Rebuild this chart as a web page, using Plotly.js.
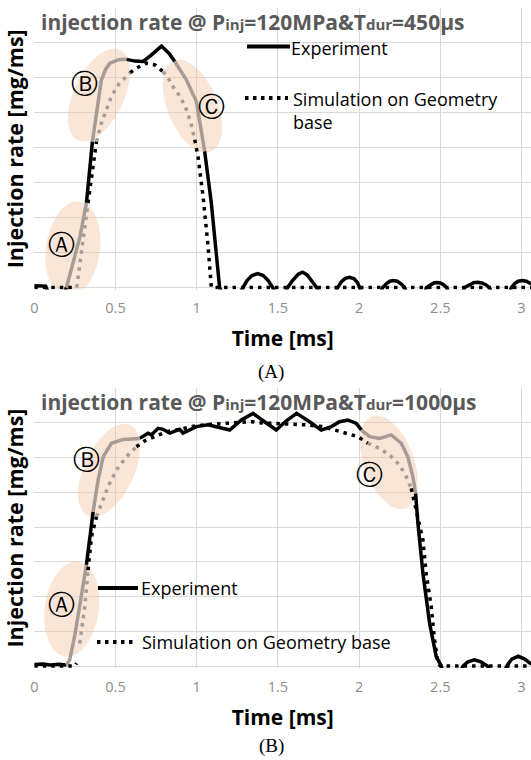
<!DOCTYPE html>
<html>
<head>
<meta charset="utf-8">
<script src="https://cdn.plot.ly/plotly-3.0.1.min.js"></script>
<style>
  html, body { margin: 0; padding: 0; background: #ffffff; }
  #chart { width: 531px; height: 760px; }
</style>
</head>
<body>
<div id="chart"></div>
<script>
// ---------------- data ----------------
// Panel (A): Tdur = 450 us
const timeExpA = [0, 0.05, 0.07, 0.09, 0.18, 0.198, 0.24, 0.281, 0.321, 0.358, 0.383, 0.413, 0.44, 0.465, 0.52, 0.567,
  0.62, 0.67, 0.72, 0.783, 0.83, 0.865, 0.937, 0.998, 1.049, 1.09, 1.141, 1.16, 1.26,
  1.283, 1.31, 1.34, 1.375, 1.41, 1.44, 1.468, 1.49, 1.54,
  1.56, 1.59, 1.625, 1.652, 1.68, 1.71, 1.738, 1.76, 1.85,
  1.868, 1.89, 1.915, 1.942, 1.97, 1.99, 2.003, 2.02, 2.13,
  2.145, 2.17, 2.19, 2.21, 2.235, 2.26, 2.28, 2.3, 2.4,
  2.415, 2.44, 2.46, 2.48, 2.5, 2.52, 2.538, 2.56, 2.63,
  2.65, 2.68, 2.705, 2.73, 2.755, 2.78, 2.803, 2.82, 2.92,
  2.938, 2.96, 2.98, 3.005, 3.03, 3.06];
const rateExpA = [0.05, 0.05, 0.04, -0.2, -0.2, 0, 0.69, 1.45, 2.42, 4.18, 4.99, 5.94, 6.25, 6.42, 6.52, 6.53,
  6.48, 6.47, 6.65, 6.91, 6.7, 6.47, 5.94, 5.32, 3.9, 2.42, 0, -0.2, -0.2,
  0, 0.2, 0.34, 0.40, 0.34, 0.2, 0, -0.2, -0.2,
  0, 0.2, 0.38, 0.44, 0.36, 0.18, 0, -0.2, -0.2,
  0, 0.16, 0.26, 0.29, 0.25, 0.14, 0, -0.2, -0.2,
  0, 0.12, 0.18, 0.2, 0.18, 0.1, 0, -0.2, -0.2,
  0, 0.09, 0.13, 0.14, 0.13, 0.08, 0, -0.2, -0.2,
  0, 0.09, 0.14, 0.15, 0.13, 0.08, 0, -0.2, -0.2,
  0, 0.12, 0.18, 0.2, 0.18, 0.1];
const timeSimA = [0, 0.261, 0.28, 0.305, 0.331, 0.355, 0.383, 0.413, 0.445, 0.475, 0.52, 0.59, 0.629, 0.69, 0.742,
  0.793, 0.83, 0.854, 0.9, 0.937, 0.965, 0.988, 1.008, 1.039, 1.07, 1.09, 3.06];
const rateSimA = [0, 0, 0.62, 1.5, 2.42, 3.3, 4.18, 4.7, 5.1, 5.47, 5.82, 6.15, 6.28, 6.42, 6.37,
  6.18, 5.95, 5.75, 5.45, 5.09, 4.7, 4.23, 3.75, 2.61, 1.18, 0, 0];

// Panel (B): Tdur = 1000 us
const timeExpB = [0, 0.05, 0.1, 0.15, 0.198, 0.218, 0.25, 0.28, 0.321, 0.362, 0.393, 0.424, 0.475, 0.547, 0.649,
  0.7, 0.721, 0.762, 0.793, 0.834, 0.854, 0.895, 0.916, 0.96, 0.998, 1.07, 1.142, 1.203, 1.275, 1.347, 1.418,
  1.49, 1.55, 1.615, 1.695, 1.767, 1.829, 1.88, 1.931, 1.983, 2.014,
  2.065, 2.126, 2.198, 2.26, 2.3, 2.331, 2.348, 2.362, 2.393, 2.434, 2.475, 2.506, 2.52, 2.62,
  2.64, 2.67, 2.71, 2.75, 2.79, 2.81, 2.89,
  2.91, 2.94, 2.98, 3.02, 3.06];
const rateExpB = [0.04, 0.06, 0.03, 0.05, 0.03, 0.17, 0.9, 1.71, 2.91, 4.44, 5.35, 6.02, 6.41, 6.52, 6.55,
  6.7, 6.65, 6.84, 6.81, 6.7, 6.74, 6.81, 6.7, 6.8, 6.89, 6.94, 6.87, 6.79, 7.08, 7.27, 7.03,
  6.79, 7.05, 7.27, 7.03, 6.79, 6.89, 7.03, 7.08, 6.98, 6.79,
  6.6, 6.55, 6.65, 6.41, 6.02, 5.45, 4.97, 4.11, 2.67, 1.23, 0.27, 0, -0.2, -0.2,
  0, 0.12, 0.18, 0.12, 0, -0.2, -0.2,
  0, 0.2, 0.28, 0.2, 0.05];
const timeSimB = [0, 0.25, 0.26, 0.28, 0.311, 0.331, 0.352, 0.383, 0.413, 0.454, 0.506, 0.567, 0.629, 0.68, 0.742,
  0.813, 0.895, 0.98, 1.07, 1.162, 1.223, 1.336, 1.388, 1.49, 1.603, 1.665, 1.777, 1.88, 1.942, 1.993,
  2.054, 2.126, 2.188, 2.249, 2.29, 2.321, 2.362, 2.393, 2.413, 2.444, 2.465, 2.485, 2.5, 3.06];
const rateSimB = [0, 0, 0.08, 0.65, 1.71, 2.76, 3.72, 4.3, 4.68, 5.16, 5.64, 6.02, 6.31, 6.48, 6.6,
  6.74, 6.81, 6.9, 6.95, 6.98, 6.98, 7.03, 7.0, 6.98, 6.94, 6.94, 6.89, 6.74, 6.66, 6.6,
  6.41, 6.26, 6.07, 5.78, 5.45, 5.11, 4.3, 3.63, 2.67, 1.71, 0.75, 0.08, 0, 0];

// Time windows of the marked phases (A opening, B needle lift, C closing)
const phasesExpA = [[0.198, 0.321], [0.358, 0.567], [0.865, 1.049]];
const phasesSimA = [[0.261, 0.331], [0.383, 0.59], [0.793, 0.988]];
const phasesExpB = [[0.198, 0.321], [0.362, 0.649], [2.014, 2.348]];
const phasesSimB = [[0.261, 0.331], [0.383, 0.629], [2.054, 2.321]];
const phaseLabels = ['Ⓐ', 'Ⓑ', 'Ⓒ'];

const tickVals = [0, 0.5, 1, 1.5, 2, 2.5, 3];
const tickText = ['0', '0.5', '1', '1.5', '2', '2.5', '3'];

const titleA = 'injection rate @ P<span style="font-size:15px">inj</span>=120MPa&amp;T<span style="font-size:15px">dur</span>=450μs';
const titleB = 'injection rate @ P<span style="font-size:15px">inj</span>=120MPa&amp;T<span style="font-size:15px">dur</span>=1000μs';
const xTitle = 'Time [ms]';
const yTitle = 'Injection rate [mg/ms]';
const nameExp = 'Experiment';
const nameSim = 'Simulation on Geometry base';
const panelCaptions = ['(A)', '(B)'];

// ---------------- geometry ----------------
const W = 531, H = 760;
const plotLeft = 34.3, pxPerMs = 162.4;
const xMax = (W - plotLeft) / pxPerMs;
const yMin = -0.06, yMax = 8;
const panels = [
  { top: 8, zero: 287.5 },
  { top: 388, zero: 666 }
];
panels.forEach(p => {
  p.pxPerUnit = (p.zero - p.top) / yMax;
  p.bottom = p.zero - yMin * p.pxPerUnit;
});
const px = v => v / W;
const py = v => 1 - v / H;

const BLACK = '#000000';
const GREY = '#a69c95';
const DOTS = '3.5px,5px';

function blackPart(t, r, ranges) {
  return r.map((v, i) => ranges.some(([a, b]) => t[i] > a && t[i] < b) ? null : v);
}
function greyPart(t, r, ranges) {
  const xs = [], ys = [];
  ranges.forEach(([a, b], k) => {
    if (k > 0) { xs.push(null); ys.push(null); }
    t.forEach((x, i) => { if (x >= a && x <= b) { xs.push(x); ys.push(r[i]); } });
  });
  return { xs, ys };
}

function seriesTraces(t, r, ranges, dashed, xa, ya, name) {
  const g = greyPart(t, r, ranges);
  const line = dashed ? { width: 3.5, dash: DOTS } : { width: 3.5 };
  return [
    { x: t, y: blackPart(t, r, ranges), xaxis: xa, yaxis: ya, type: 'scatter', mode: 'lines', name: name,
      line: Object.assign({ color: BLACK }, line), showlegend: false, hoverinfo: 'skip' },
    { x: g.xs, y: g.ys, xaxis: xa, yaxis: ya, type: 'scatter', mode: 'lines', name: name,
      line: Object.assign({ color: GREY }, line), showlegend: false, hoverinfo: 'skip' }
  ];
}

const traces = [].concat(
  seriesTraces(timeExpA, rateExpA, phasesExpA, false, 'x', 'y', nameExp),
  seriesTraces(timeSimA, rateSimA, phasesSimA, true, 'x', 'y', nameSim),
  seriesTraces(timeExpB, rateExpB, phasesExpB, false, 'x2', 'y2', nameExp),
  seriesTraces(timeSimB, rateSimB, phasesSimB, true, 'x2', 'y2', nameSim)
);

// Tilted highlight ellipses: semi-axes in pixels (rx across, ry along), tilt > 0 leans the top to the right
function ellipsePath(cx, cy, rx, ry, tiltDeg, panel) {
  const th = tiltDeg * Math.PI / 180;
  let d = '';
  for (let k = 0; k <= 60; k++) {
    const u = 2 * Math.PI * k / 60;
    const ex = rx * Math.cos(u), ey = ry * Math.sin(u);
    const dx = ex * Math.cos(th) + ey * Math.sin(th);
    const dy = -ex * Math.sin(th) + ey * Math.cos(th);
    const X = cx + dx / pxPerMs;
    const Y = cy + dy / panel.pxPerUnit;
    d += (k === 0 ? 'M' : 'L') + X.toFixed(4) + ',' + Y.toFixed(4);
  }
  return d + 'Z';
}
const ellipsesA = [[0.238, 1.10, 27, 48, 8], [0.398, 5.51, 25, 50, 25], [0.974, 5.19, 25, 49, -22]];
const ellipsesB = [[0.230, 1.64, 27, 48, 8], [0.460, 5.63, 25, 50, 25], [2.184, 5.86, 25, 49, -20]];
const labelPosA = [[0.169, 1.22], [0.312, 5.84], [1.092, 5.17]];
const labelPosB = [[0.169, 1.76], [0.323, 5.93], [2.067, 5.50]];

const shapes = [];
const annotations = [];
[[ellipsesA, 'x', 'y', panels[0]], [ellipsesB, 'x2', 'y2', panels[1]]].forEach(([list, xa, ya, p]) => {
  list.forEach(([cx, cy, rx, ry, tilt]) => {
    shapes.push({ type: 'path', xref: xa, yref: ya, layer: 'between',
      path: ellipsePath(cx, cy, rx, ry, tilt, p),
      fillcolor: 'rgba(241,196,160,0.42)', line: { width: 0 } });
  });
});
[[labelPosA, 'x', 'y'], [labelPosB, 'x2', 'y2']].forEach(([list, xa, ya]) => {
  list.forEach(([x, y], i) => {
    annotations.push({ xref: xa, yref: ya, x: x, y: y, text: phaseLabels[i], showarrow: false,
      font: { family: 'DejaVu Sans', size: 27, color: '#000' }, xanchor: 'center', yanchor: 'middle' });
  });
});

// Panel titles
[[titleA, panels[0]], [titleB, panels[1]]].forEach(([txt, p]) => {
  annotations.push({ xref: 'paper', yref: 'paper', x: px(39), y: py(p.top + 13.5), text: txt, showarrow: false,
    xanchor: 'left', yanchor: 'middle',
    font: { family: 'Open Sans', size: 21, color: '#595959', weight: 'bold' } });
});

// Legends
const legendFont = { family: 'Open Sans', size: 18, color: '#000' };
function legendEntries(spec) {
  spec.forEach(e => {
    shapes.push({ type: 'line', xref: 'paper', yref: 'paper', x0: px(e.x0), x1: px(e.x1), y0: py(e.y), y1: py(e.y),
      line: e.dashed ? { color: BLACK, width: 4, dash: '3.5px,4.5px' } : { color: BLACK, width: 4 } });
    annotations.push({ xref: 'paper', yref: 'paper', x: px(e.tx), y: py(e.ty), text: e.text, showarrow: false,
      xanchor: 'left', yanchor: e.multi ? 'top' : 'middle', align: 'left', font: legendFont,
      yshift: e.multi ? 13.5 : 0 });
  });
}
legendEntries([
  { x0: 247, x1: 290, y: 46.5, ty: 48.5, tx: 289, text: nameExp },
  { x0: 245, x1: 288, y: 98, ty: 98, tx: 291, text: 'Simulation on Geometry<br>base', dashed: true, multi: true }
]);
legendEntries([
  { x0: 98, x1: 138, y: 588, ty: 588, tx: 139, text: nameExp },
  { x0: 97, x1: 135, y: 642, ty: 642, tx: 140, text: nameSim, dashed: true }
]);

// Panel captions
panelCaptions.forEach((c, i) => {
  annotations.push({ xref: 'paper', yref: 'paper', x: px(271), y: py(i === 0 ? 372 : 746), text: c, showarrow: false,
    xanchor: 'center', yanchor: 'middle', font: { family: 'Liberation Serif', size: 19, color: '#000' } });
});

function xAxis(anchor) {
  return {
    anchor: anchor, domain: [px(plotLeft), 1], range: [0, xMax],
    tickmode: 'array', tickvals: tickVals, ticktext: tickText,
    showgrid: true, gridcolor: '#d9d9d9', gridwidth: 1, zeroline: false, showline: false,
    ticks: '', ticklabelstandoff: 8,
    tickfont: { family: 'Open Sans', size: 14.5, color: '#8c8c8c' },
    title: { text: xTitle, font: { family: 'Open Sans', size: 21, color: '#000', weight: 'bold' }, standoff: 15 },
    fixedrange: true
  };
}
function yAxis(anchor, p) {
  return {
    anchor: anchor, domain: [py(p.bottom), py(p.top)], range: [yMin, yMax],
    dtick: 1, tick0: 0, showticklabels: false, ticks: '',
    showgrid: true, gridcolor: '#d9d9d9', gridwidth: 1, zeroline: false, showline: false,
    title: { text: yTitle, font: { family: 'Open Sans', size: 21.5, color: '#000', weight: 'bold' }, standoff: 3 },
    fixedrange: true
  };
}

const layout = {
  width: W, height: H,
  margin: { l: 0, r: 0, t: 0, b: 0, pad: 0 },
  paper_bgcolor: '#ffffff', plot_bgcolor: '#ffffff',
  showlegend: false,
  xaxis: xAxis('y'), yaxis: yAxis('x', panels[0]),
  xaxis2: xAxis('y2'), yaxis2: yAxis('x2', panels[1]),
  shapes: shapes, annotations: annotations
};

Plotly.newPlot('chart', traces, layout, { staticPlot: true, displayModeBar: false });
</script>
</body>
</html>
